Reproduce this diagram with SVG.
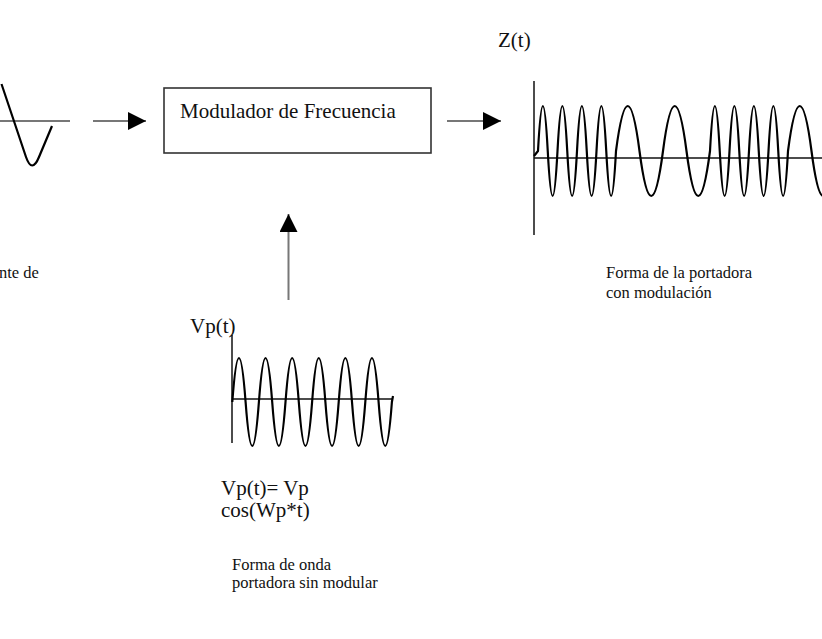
<svg xmlns="http://www.w3.org/2000/svg" width="822" height="639" viewBox="0 0 822 639">
<defs>
<style>
.t{font-family:"Liberation Serif","Times New Roman",serif;fill:#111}
.big{font-size:21px}
.sm{font-size:16.5px}
.axis{stroke:#111;stroke-width:1.5;fill:none}
.gaxis{stroke:#777;stroke-width:2;fill:none}
.wave{stroke:#000;stroke-width:2.2;fill:none;stroke-linejoin:round}
.conn{stroke:#777;stroke-width:2;fill:none}
</style>
<marker id="ah" markerUnits="userSpaceOnUse" markerWidth="18" markerHeight="18" viewBox="0 0 16 16" refX="16" refY="8" orient="auto">
<path d="M0,0 L16,8 L0,16 Z" fill="#000"/>
</marker>
</defs>
<rect width="822" height="639" fill="#fff"/>

<g id="input-signal">
<line class="gaxis" x1="0" y1="121" x2="70" y2="121"/>
<path class="wave" d="M1.5,84 L26,157 Q32,174 39,157 L52,126"/>
<text class="t sm" x="-1" y="278">nte de</text>
</g>

<g id="modulador">
<rect x="164" y="88" width="267" height="65" fill="#fff" stroke="#333" stroke-width="1.6"/>
<text class="t big" x="180" y="118">Modulador de Frecuencia</text>
</g>

<g id="salida">
<text class="t big" x="498" y="47">Z(t)</text>
<line class="axis" x1="534" y1="81" x2="534" y2="235"/>
<line class="axis" x1="534" y1="158" x2="822" y2="158"/>
<path class="wave" d="M534,156 L538,151
Q542.875,61 547.75,151 Q552.625,241 557.5,151 Q562.375,61 567.25,151 Q572.125,241 577,151
Q581.875,61 586.75,151 Q591.625,241 596.5,151 Q601.375,61 606.25,151 Q611.125,241 616,151
Q627.75,61 639.5,151 Q651.25,241 663,151 Q674.75,61 686.5,151 Q698.25,241 710,151
Q714.875,61 719.75,151 Q724.625,241 729.5,151 Q734.375,61 739.25,151 Q744.125,241 749,151
Q753.875,61 758.75,151 Q763.625,241 768.5,151 Q773.375,61 778.25,151 Q783.125,241 788,151
Q799.75,61 811.5,151 Q823.25,241 835,151"/>
<text class="t sm" x="606" y="278">Forma de la portadora</text>
<text class="t sm" x="606" y="298">con modulación</text>
</g>

<g id="portadora">
<text class="t big" x="190" y="333">Vp(t)</text>
<line class="axis" x1="232" y1="335" x2="232" y2="443"/>
<line class="axis" x1="232" y1="399" x2="393" y2="399"/>
<path class="wave" d="M232.3,402
Q238.95,314 245.6,402 Q252.25,490 258.9,402 Q265.55,314 272.2,402 Q278.85,490 285.5,402
Q292.15,314 298.8,402 Q305.45,490 312.1,402 Q318.75,314 325.4,402 Q332.05,490 338.7,402
Q345.35,314 352,402 Q358.65,490 365.3,402 Q371.95,314 378.6,402 Q385.25,490 391.9,402 L393,396"/>
<text class="t big" x="221" y="495">Vp(t)= Vp</text>
<text class="t big" x="221" y="517">cos(Wp*t)</text>
<text class="t sm" x="232" y="570">Forma de onda</text>
<text class="t sm" x="232" y="588">portadora sin modular</text>
</g>

<g id="connectors">
<line class="conn" x1="93" y1="121" x2="146" y2="121" marker-end="url(#ah)"/>
<line class="conn" x1="447" y1="121" x2="501" y2="121" marker-end="url(#ah)"/>
<line class="conn" x1="288.5" y1="300" x2="288.5" y2="214" marker-end="url(#ah)"/>
</g>
</svg>
